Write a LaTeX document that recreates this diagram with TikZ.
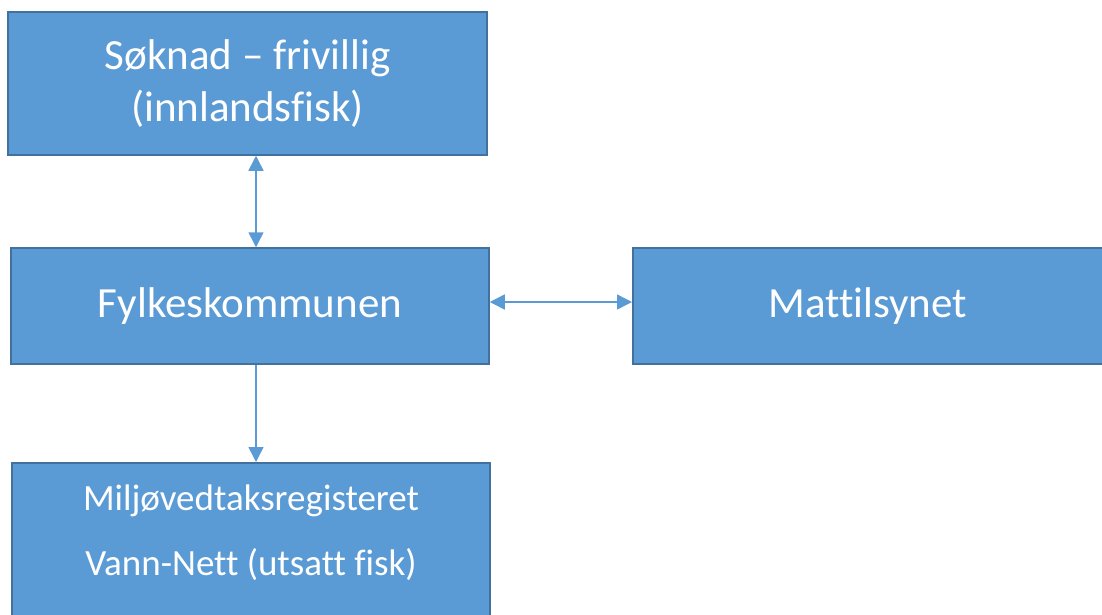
\documentclass[tikz,border=0pt]{standalone}
\usepackage{fontspec}
\setmainfont{Carlito}[Ligatures=CommonOff]
\usetikzlibrary{shapes,arrows.meta,positioning,calc}
\definecolor{boxfill}{HTML}{5B9BD5}
\definecolor{boxline}{HTML}{41719C}
\tikzstyle{box} = [rectangle,draw=boxline,fill=boxfill,line width=1.5pt,text=white,align=center,inner sep=0pt,minimum width=478pt,font=\fontsize{43}{52}\selectfont]
\tikzstyle{link} = [draw=boxfill,line width=1.5pt]
\tikzset{>={Triangle[length=15pt,width=15pt]}}

\begin{document}
\begin{tikzpicture}[x=1pt,y=-1pt]
    \useasboundingbox (0,0) rectangle (1102,614);
    \clip (0,0) rectangle (1102,614);
    \node [box,minimum width=479pt,minimum height=143pt] (soknad) at (247.5,83.5) {Søknad – frivillig\\(innlandsfisk)};
    \node [box,minimum height=116pt] (fylke) at (250,306) {Fylkeskommunen};
    \node [box,minimum height=116pt,anchor=west] (mattilsyn) at (632,306) {\hspace*{-8pt}Mattilsynet};
    % box runs off the bottom edge
    \node [box,minimum height=162pt,anchor=north,text depth=28pt,font=\fontsize{37}{65}\selectfont] (register) at (251,462) {Miljøvedtaksregisteret\\Vann-Nett (utsatt fisk)};
    \draw [link,<->] (soknad.south -| 256,0) -- (fylke.north -| 256,0);
    \draw [link,<->] (fylke.east |- 0,302) -- (mattilsyn.west |- 0,302);
    \draw [link,->] (fylke.south -| 256,0) -- (register.north -| 256,0);
  \end{tikzpicture}
\end{document}
